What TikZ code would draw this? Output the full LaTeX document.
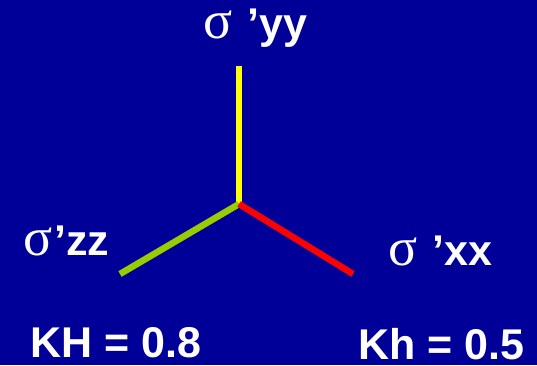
\documentclass[tikz,border=0pt]{standalone}
\usepackage{fontspec}
\setmainfont{Liberation Sans}
\newfontfamily\sigfont{Liberation Serif}
\definecolor{bgblue}{HTML}{000099}
\definecolor{axyellow}{HTML}{FFFF00}
\definecolor{axgreen}{HTML}{99CC00}
\definecolor{axred}{HTML}{FF0000}
\newcommand{\sig}{{\sigfont\mdseries\fontsize{54}{58}\selectfont σ}}
\tikzset{
  lbl/.style={text=white, font=\fontsize{43}{47}\selectfont\bfseries, anchor=base west, inner sep=0pt},
  axis/.style={line width=6.5pt}
}
\begin{document}
\begin{tikzpicture}[x=1pt,y=-1pt]
\fill[bgblue] (0,0) rectangle (537,365);
\useasboundingbox (0,0) rectangle (537,365);
\coordinate (o) at (239,204);
\coordinate (ytop) at (239,66);
\coordinate (zend) at (120,274);
\coordinate (xend) at (353,274);
\draw[axis, axyellow] (o) -- (ytop);
\draw[axis, axgreen] (o) -- (zend);
\draw[axis, axred] (o) -- (xend);
\node[lbl] (syy) at (203,38) {\sig\hspace{3pt}\ ’yy};
\node[lbl] (szz) at (23,255) {\sig\hspace{2pt}’zz};
\node[lbl] (sxx) at (388,265) {\sig\hspace{3pt}\ ’xx};
\node[lbl] (kh1) at (30,357) {KH = 0.8};
\node[lbl] (kh2) at (358,359) {Kh = 0.5};
\end{tikzpicture}
\end{document}
